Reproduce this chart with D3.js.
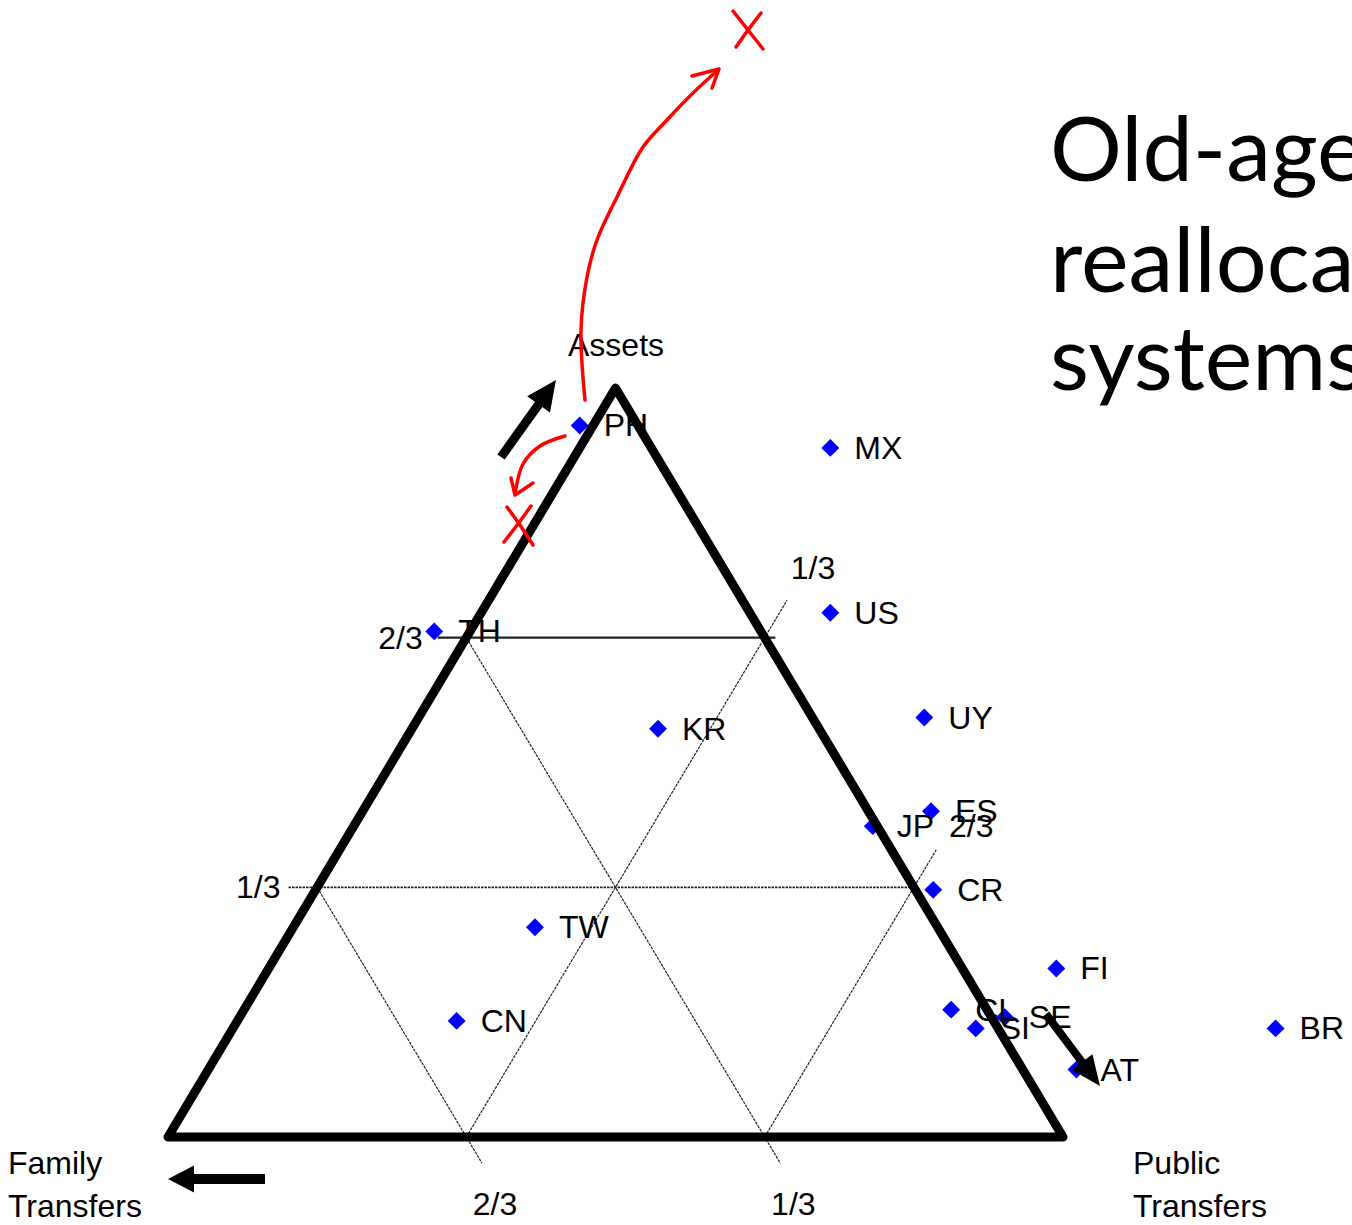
<!DOCTYPE html>
<html><head><meta charset="utf-8">
<script src="https://cdn.jsdelivr.net/npm/d3@7"></script>
<style>body{margin:0;background:#fff;overflow:hidden}svg{display:block}</style>
</head><body>
<svg id="c" width="1352" height="1225"></svg>
<script>
// ---------- data (ternary shares: family, public, assets) ----------
const countries   = ["PH","MX","TH","US","KR","UY","ES","JP","CR","TW","CN","FI","CL","SI","SE","AT","BR"];
const assetsShare = [0.950,0.920,0.675,0.700,0.545,0.560,0.435,0.415,0.330,0.280,0.155,0.225,0.170,0.145,0.160,0.090,0.145];
const publicShare = [-0.015,0.280,-0.040,0.390,0.275,0.565,0.635,0.580,0.690,0.270,0.245,0.880,0.790,0.830,0.855,0.970,1.165];
const familyShare = [0.065,-0.200,0.365,-0.090,0.180,-0.125,-0.070,0.005,-0.020,0.450,0.600,-0.105,0.040,0.025,-0.015,-0.060,-0.310];
const gridTicks   = [1/3, 2/3];
const tickLabels  = ["1/3", "2/3"];
const axisAssets  = ["Assets"];
const axisFamily  = ["Family", "Transfers"];
const axisPublic  = ["Public", "Transfers"];
const titleLines  = ["Old-age", "reallocation", "systems"];

// ---------- scales ----------
const svg = d3.select("#c");
const xS = d3.scaleLinear().domain([0, 1]).range([168, 1063]);
const yS = d3.scaleLinear().domain([0, 1]).range([1137, 388]);
const P = (a, p) => [xS(p + a / 2), yS(a)];  // (assets, public) -> pixel

const points = countries.map((c, i) => ({c, a: assetsShare[i], p: publicShare[i], f: familyShare[i]}));

const FONT = "'Liberation Sans', Arial, sans-serif";
const g = svg.append("g");

// ---------- grid lines ----------
const gridG = g.append("g").attr("fill", "none").attr("stroke", "#222");
// assets = t (horizontal)
gridTicks.forEach((t, i) => {
  const s = P(t, -0.032), e = P(t, 1 - t + (i === 1 ? 0.012 : 0));
  gridG.append("line").attr("x1", s[0]).attr("y1", s[1]).attr("x2", e[0]).attr("y2", e[1])
    .attr("stroke-width", i === 1 ? 2.2 : 1.6)
    .attr("stroke-dasharray", i === 1 ? null : "2.5,1");
  g.append("text").attr("x", s[0] - 8 - 7 * i).attr("y", s[1] + 11).attr("text-anchor", "end")
    .attr("font-family", FONT).attr("font-size", 32).text(tickLabels[i]);
});
// family = t (parallel to right side)
gridTicks.forEach((t, i) => {
  const s = P(1 - t, 0), e = P(-0.035, 1 - t + 0.035);
  gridG.append("line").attr("x1", s[0]).attr("y1", s[1]).attr("x2", e[0]).attr("y2", e[1])
    .attr("stroke-width", 1.2).attr("stroke-dasharray", "3,1");
  g.append("text").attr("x", e[0] + 13).attr("y", e[1] + 52).attr("text-anchor", "middle")
    .attr("font-family", FONT).attr("font-size", 32).text(tickLabels[i]);
});
// public = t (parallel to left side)
gridTicks.forEach((t, i) => {
  const s = P(0, t), e = P(1 - t + 0.05, t);
  gridG.append("line").attr("x1", s[0]).attr("y1", s[1]).attr("x2", e[0]).attr("y2", e[1])
    .attr("stroke-width", 1.2).attr("stroke-dasharray", "3,1");
  g.append("text").attr("x", e[0] + 26 + 9 * i).attr("y", e[1] - 21 + 8 * i).attr("text-anchor", "middle")
    .attr("font-family", FONT).attr("font-size", 32).text(tickLabels[i]);
});

// ---------- points & labels ----------
const sym = d3.symbol().type(d3.symbolSquare).size(160);
g.append("g").selectAll("path").data(points).join("path")
  .attr("d", sym)
  .attr("transform", d => { const q = P(d.a, d.p); return `translate(${q[0]},${q[1]}) rotate(45)`; })
  .attr("fill", "#0000ff");
g.append("g").selectAll("text").data(points).join("text")
  .attr("x", d => P(d.a, d.p)[0] + 24)
  .attr("y", d => P(d.a, d.p)[1] + 11)
  .attr("font-family", FONT).attr("font-size", 32).attr("fill", "#000")
  .text(d => d.c);

// ---------- triangle ----------
const tri = [P(0, 0), P(0, 1), P(1, 0)];
g.append("path").attr("d", d3.line()(tri) + "Z")
  .attr("fill", "none").attr("stroke", "#000").attr("stroke-width", 9).attr("stroke-linejoin", "round");

// ---------- axis names ----------
g.append("text").attr("x", 568).attr("y", 356).attr("font-family", FONT).attr("font-size", 32).text(axisAssets[0]);
axisFamily.forEach((t, i) => g.append("text").attr("x", 8).attr("y", 1174 + i * 43)
  .attr("font-family", FONT).attr("font-size", 32).text(t));
axisPublic.forEach((t, i) => g.append("text").attr("x", 1133).attr("y", 1174 + i * 43)
  .attr("font-family", FONT).attr("font-size", 32).text(t));

// ---------- black arrows ----------
function arrow(x1, y1, x2, y2, hl, hw, sw) {
  const ang = Math.atan2(y2 - y1, x2 - x1);
  const bx = x2 - hl * Math.cos(ang), by = y2 - hl * Math.sin(ang);
  g.append("line").attr("x1", x1).attr("y1", y1).attr("x2", bx + 2 * Math.cos(ang)).attr("y2", by + 2 * Math.sin(ang))
    .attr("stroke", "#000").attr("stroke-width", sw);
  const nx = -Math.sin(ang), ny = Math.cos(ang);
  g.append("path").attr("d", d3.line()([[x2, y2], [bx + nx * hw / 2, by + ny * hw / 2], [bx - nx * hw / 2, by - ny * hw / 2]]) + "Z")
    .attr("fill", "#000");
}
arrow(501, 457, 556, 380, 30, 28, 9);
arrow(265, 1179, 168, 1179, 26, 27, 10);
arrow(1046, 1014, 1100, 1086, 30, 26, 8);

// ---------- title ----------
titleLines.forEach((t, i) => svg.append("text").attr("x", 1050).attr("y", [181, 292, 390][i])
  .attr("font-family", "Lato, 'Open Sans', sans-serif").attr("font-size", 90).attr("fill", "#000").text(t));

// ---------- red hand annotations ----------
const red = svg.append("g").attr("fill", "none").attr("stroke", "#ff0000").attr("stroke-width", 3.5)
  .attr("stroke-linecap", "round").attr("stroke-linejoin", "round");
const curve = d3.line().curve(d3.curveCatmullRom);
red.append("path").attr("d", curve([[585, 400], [581, 330], [587, 277], [597, 240], [617, 197], [643, 147], [667, 120], [693, 93], [718, 70]]));
red.append("path").attr("d", d3.line()([[692, 76], [719, 69], [712, 88]]));
red.append("path").attr("d", d3.line()([[733, 11], [748, 30], [763, 49]]));
red.append("path").attr("d", d3.line()([[761, 13], [748, 30], [736, 47]]));
red.append("path").attr("d", curve([[565, 436], [540, 446], [523, 464], [515, 494]]));
red.append("path").attr("d", d3.line()([[511, 478], [515, 495], [533, 483]]));
red.append("path").attr("d", d3.line()([[507, 507], [520, 525], [533, 545]]));
red.append("path").attr("d", d3.line()([[531, 506], [518, 524], [504, 542]]));
</script>
</body></html>
